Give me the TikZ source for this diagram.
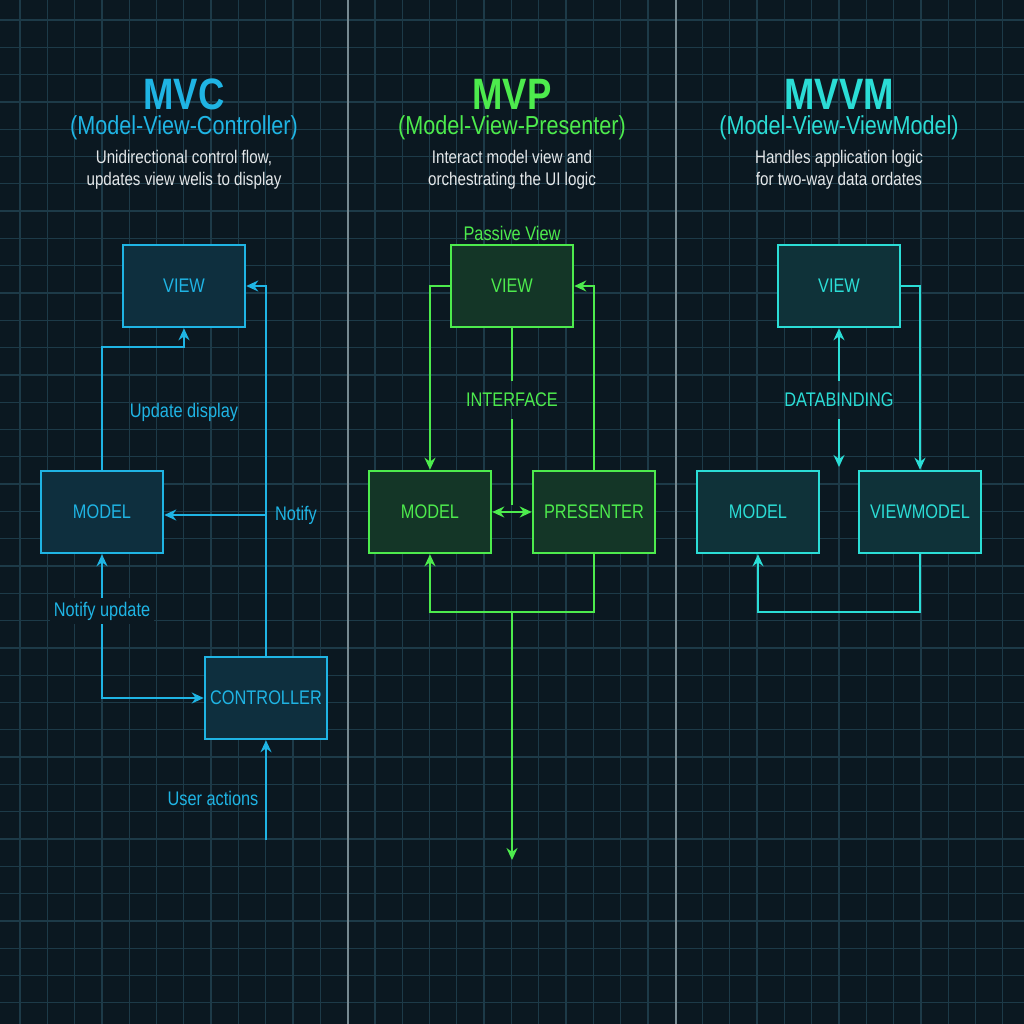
\documentclass[tikz,border=0pt]{standalone}
\usepackage{fontspec}
\setmainfont{Liberation Sans}
\usetikzlibrary{arrows.meta}
\definecolor{bgdark}{HTML}{0B1821}
\definecolor{gridc}{HTML}{1D3A48}
\definecolor{mvccol}{HTML}{1FB4E4}
\definecolor{mvpcol}{HTML}{4DEB4D}
\definecolor{mvvmcol}{HTML}{2BDDD6}
\newcommand{\narrow}[1]{\scalebox{0.83}[1]{#1}}
\tikzset{
  box/.style={draw, line width=0.7pt, minimum width=1.22cm, minimum height=0.82cm, inner sep=0pt, font=\fontsize{5.6}{6}\selectfont},
  lbl/.style={font=\fontsize{5.6}{6}\selectfont},
  link/.style={line width=0.5pt, -{Stealth[length=1.2mm,width=1.1mm]}},
  title/.style={inner sep=0pt, font=\bfseries\fontsize{12.5}{13}\selectfont},
  subtitle/.style={inner sep=0pt, font=\fontsize{7.4}{8}\selectfont},
  note/.style={white!88!gridc, font=\fontsize{5.2}{6.2}\selectfont},
}
\begin{document}
\begin{tikzpicture}[x=0.01cm,y=-0.01cm]
  \useasboundingbox (0,0) rectangle (1024,1024);
  \fill[bgdark] (0,0) rectangle (1024,1024);
  % grid
  \foreach \i in {0,...,37} {
    \draw[gridc, line width=0.35pt] (20+27.3*\i,0) -- (20+27.3*\i,1024);
    \draw[gridc, line width=0.35pt] (0,20+27.3*\i) -- (1024,20+27.3*\i);
  }
  \draw[gridc!60!white, line width=0.6pt] (348,0) -- (348,1024);
  \draw[gridc!60!white, line width=0.6pt] (676,0) -- (676,1024);

  % MVC
  \begin{scope}[mvccol]
    \node[title] (mvct) at (184,94) {\narrow{MVC}};
    \node[subtitle] (mvcs) at (184,128) {\narrow{(Model-View-Controller)}};
    \node[note] (mvcn) at (184,170) {\narrow{\begin{tabular}{@{}c@{}}Unidirectional control flow,\\updates  view welis to display\end{tabular}}};
    \node[box, fill=mvccol!15!bgdark] (mvcview) at (184,286) {\narrow{VIEW}};
    \node[box, fill=mvccol!15!bgdark] (mvcmodel) at (102,512) {\narrow{MODEL}};
    \node[box, fill=mvccol!15!bgdark] (mvcctrl) at (266,698) {\narrow{CONTROLLER}};
    \coordinate (mvcuser) at (266,840);
    \coordinate (mvcnotify) at (266,515);
    \coordinate (mvcnu) at (102,560);
    \draw[link] (mvcmodel.north) |- (184,347) -- (mvcview.south);
    \node[lbl] (mvcupd) at (184,412) {\narrow{Update display}};
    \draw[link] (mvcctrl.north) |- (mvcview.east);
    \draw[link] (mvcnotify) -- (mvcmodel.east |- mvcnotify);
    \node[lbl] (mvcnot) at (296,515) {\narrow{Notify}};
    \draw[link] (102,698) -- (mvcmodel.south);
    \draw[link] (mvcnu) |- (mvcctrl.west);
    \node[lbl, fill=bgdark, inner sep=1pt] (mvcnul) at (102,611) {\narrow{Notify update}};
    \draw[link] (mvcuser) -- (mvcctrl.south);
    \node[lbl] (mvcua) at (213,798) {\narrow{User actions}};
  \end{scope}

  % MVP
  \begin{scope}[mvpcol]
    \node[title] (mvpt) at (512,94) {\narrow{MVP}};
    \node[subtitle] (mvps) at (512,128) {\narrow{(Model-View-Presenter)}};
    \node[note] (mvpn) at (512,170) {\narrow{\begin{tabular}{@{}c@{}}Interact model view and\\orchestrating the UI logic\end{tabular}}};
    \node[lbl] (mvppv) at (512,233) {\narrow{Passive View}};
    \node[box, fill=mvpcol!14!bgdark] (mvpview) at (512,286) {\narrow{VIEW}};
    \node[box, fill=mvpcol!14!bgdark] (mvpmodel) at (430,512) {\narrow{MODEL}};
    \node[box, fill=mvpcol!14!bgdark] (mvppres) at (594,512) {\narrow{PRESENTER}};
    \node[lbl] (mvpif) at (512,400) {\narrow{INTERFACE}};
    \coordinate (mvpout) at (512,860);
    \draw[link] (mvpview.west) -| (mvpmodel.north);
    \draw[link] (mvppres.north) |- (mvpview.east);
    \draw[line width=0.5pt] (mvpview.south) -- (mvpif.north);
    \draw[line width=0.5pt] (mvpif.south) -- (512,505);
    \draw[line width=0.5pt, {Stealth[length=1.2mm,width=1.1mm]}-{Stealth[length=1.2mm,width=1.1mm]}] (mvpmodel.east) -- (mvppres.west);
    \draw[link] (mvppres.south) |- (512,612) -| (mvpmodel.south);
    \draw[link] (512,612) -- (mvpout);
  \end{scope}

  % MVVM
  \begin{scope}[mvvmcol]
    \node[title] (mvvmt) at (839,94) {\narrow{MVVM}};
    \node[subtitle] (mvvms) at (839,128) {\narrow{(Model-View-ViewModel)}};
    \node[note] (mvvmn) at (839,170) {\narrow{\begin{tabular}{@{}c@{}}Handles application logic\\for two-way data ordates\end{tabular}}};
    \node[box, fill=mvvmcol!13!bgdark] (mvvmview) at (839,286) {\narrow{VIEW}};
    \node[box, fill=mvvmcol!13!bgdark] (mvvmmodel) at (758,512) {\narrow{MODEL}};
    \node[box, fill=mvvmcol!13!bgdark] (mvvmvm) at (920,512) {\narrow{VIEWMODEL}};
    \node[lbl] (mvvmdb) at (839,400) {\narrow{DATABINDING}};
    \coordinate (mvvmmid) at (839,467);
    \draw[link] (mvvmdb.north) -- (mvvmview.south);
    \draw[link] (mvvmdb.south) -- (mvvmmid);
    \draw[link] (mvvmview.east) -| (mvvmvm.north);
    \draw[link] (mvvmvm.south) |- (839,612) -| (mvvmmodel.south);
  \end{scope}
\end{tikzpicture}
\end{document}
